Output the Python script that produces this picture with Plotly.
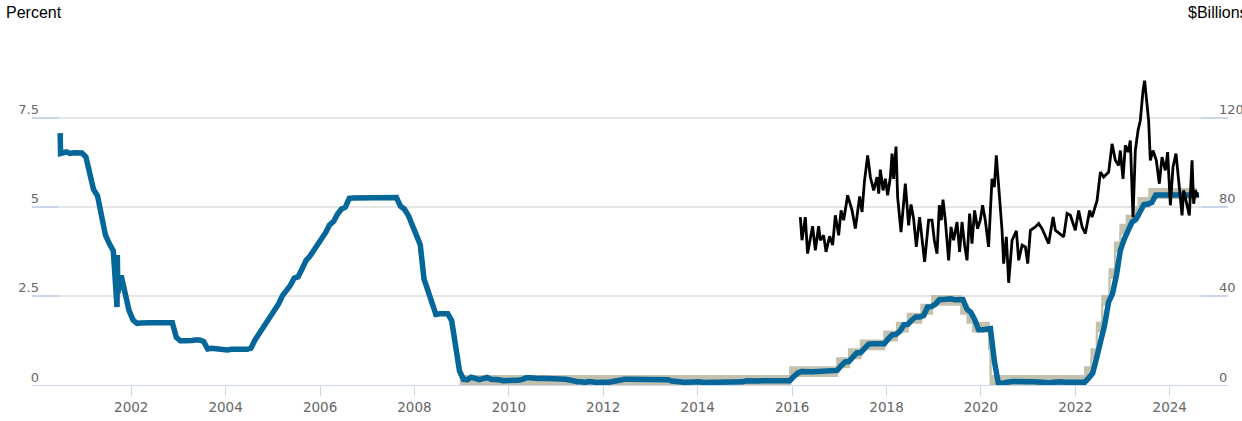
import pandas as pd
import plotly.graph_objects as go

# ---------------- DATA ----------------
# Effective federal funds rate, monthly (mid-month), Jul 2000 - Jul 2024 (percent)
effr_start = "2000-07-15"
effr_monthly = [
    6.54, 6.50, 6.52, 6.51, 6.51, 6.40,
    5.98, 5.49, 5.31, 4.80, 4.21, 3.97, 3.77, 3.65, 3.07, 2.49, 2.09, 1.82,
    1.73, 1.74, 1.73, 1.75, 1.75, 1.75, 1.73, 1.74, 1.75, 1.75, 1.34, 1.24,
    1.24, 1.26, 1.25, 1.26, 1.26, 1.22, 1.01, 1.03, 1.01, 1.01, 1.00, 0.98,
    1.00, 1.01, 1.00, 1.00, 1.00, 1.03, 1.26, 1.43, 1.61, 1.76, 1.93, 2.16,
    2.28, 2.50, 2.63, 2.79, 3.00, 3.04, 3.26, 3.50, 3.62, 3.78, 4.00, 4.16,
    4.29, 4.49, 4.59, 4.79, 4.94, 4.99, 5.24, 5.25, 5.25, 5.25, 5.25, 5.24,
    5.25, 5.26, 5.26, 5.25, 5.25, 5.25, 5.26, 5.02, 4.94, 4.76, 4.49, 4.24,
    3.94, 2.98, 2.61, 2.28, 1.98, 2.00, 2.01, 2.00, 1.81, 0.97, 0.39, 0.16,
    0.15, 0.22, 0.18, 0.15, 0.18, 0.21, 0.16, 0.16, 0.15, 0.12, 0.12, 0.12,
    0.11, 0.13, 0.16, 0.20, 0.20, 0.18, 0.18, 0.19, 0.19, 0.19, 0.19, 0.18,
    0.17, 0.16, 0.14, 0.10, 0.09, 0.09, 0.07, 0.10, 0.08, 0.07, 0.08, 0.07,
    0.08, 0.10, 0.13, 0.14, 0.16, 0.16, 0.16, 0.13, 0.14, 0.16, 0.16, 0.16,
    0.14, 0.15, 0.14, 0.15, 0.11, 0.09, 0.09, 0.08, 0.08, 0.09, 0.08, 0.09,
    0.07, 0.07, 0.08, 0.09, 0.09, 0.10, 0.09, 0.09, 0.09, 0.09, 0.09, 0.12,
    0.11, 0.11, 0.11, 0.12, 0.12, 0.13, 0.13, 0.14, 0.14, 0.12, 0.12, 0.24,
    0.34, 0.38, 0.36, 0.37, 0.37, 0.38, 0.39, 0.40, 0.40, 0.40, 0.41, 0.54,
    0.65, 0.66, 0.79, 0.90, 0.91, 1.04, 1.15, 1.16, 1.15, 1.15, 1.16, 1.30,
    1.41, 1.42, 1.51, 1.69, 1.70, 1.82, 1.91, 1.91, 1.95, 2.19, 2.20, 2.27,
    2.40, 2.40, 2.41, 2.42, 2.39, 2.38, 2.40, 2.13, 2.04, 1.83, 1.55, 1.55,
    1.55, 1.58, 0.65, 0.05, 0.05, 0.08, 0.09, 0.10, 0.09, 0.09, 0.09, 0.09,
    0.09, 0.08, 0.07, 0.07, 0.06, 0.08, 0.10, 0.09, 0.08, 0.08, 0.08, 0.08,
    0.08, 0.08, 0.20, 0.33, 0.77, 1.21, 1.68, 2.33, 2.56, 3.08, 3.78, 4.10,
    4.33, 4.57, 4.65, 4.83, 5.06, 5.08, 5.12, 5.33, 5.33, 5.33, 5.33, 5.33,
    5.33, 5.33, 5.33, 5.33, 5.33, 5.33, 5.33,
]
# Individual daily readings visible in the picture
effr_extra_dates = ["2000-06-30", "2000-07-03", "2001-09-13", "2001-09-20", "2024-07-31"]
effr_extra_values = [7.07, 6.50, 2.19, 2.58, 5.33]

# Target range (percent), step changes
target_dates = [
    "2008-12-16", "2015-12-17", "2016-12-15", "2017-03-16", "2017-06-15",
    "2017-12-14", "2018-03-22", "2018-06-14", "2018-09-27", "2018-12-20",
    "2019-08-01", "2019-09-19", "2019-10-31", "2020-03-04", "2020-03-16",
    "2022-03-17", "2022-05-05", "2022-06-16", "2022-07-28", "2022-09-22",
    "2022-11-03", "2022-12-15", "2023-02-02", "2023-03-23", "2023-05-04",
    "2023-07-27", "2024-07-31",
]
target_lower = [
    0.00, 0.25, 0.50, 0.75, 1.00, 1.25, 1.50, 1.75, 2.00, 2.25,
    2.00, 1.75, 1.50, 1.00, 0.00, 0.25, 0.75, 1.50, 2.25, 3.00,
    3.75, 4.25, 4.50, 4.75, 5.00, 5.25, 5.25,
]
target_upper = [
    0.25, 0.50, 0.75, 1.00, 1.25, 1.50, 1.75, 2.00, 2.25, 2.50,
    2.25, 2.00, 1.75, 1.25, 0.25, 0.50, 1.00, 1.75, 2.50, 3.25,
    4.00, 4.50, 4.75, 5.00, 5.25, 5.50, 5.50,
]

# Fed funds volume ($ billions); dates in decimal years
volume_year = [
    2016.174, 2016.210, 2016.280, 2016.328, 2016.434, 2016.492, 2016.561, 2016.597,
    2016.667, 2016.718, 2016.794, 2016.858, 2016.915, 2016.985, 2017.036, 2017.091,
    2017.176, 2017.269, 2017.339, 2017.430, 2017.481, 2017.530, 2017.600, 2017.657,
    2017.727, 2017.799, 2017.833, 2017.869, 2017.926, 2017.975, 2018.023, 2018.081,
    2018.117, 2018.150, 2018.201, 2018.235, 2018.307, 2018.398, 2018.468, 2018.519,
    2018.574, 2018.631, 2018.701, 2018.752, 2018.807, 2018.892, 2018.964, 2019.013,
    2019.070, 2019.119, 2019.161, 2019.197, 2019.246, 2019.316, 2019.367, 2019.422,
    2019.494, 2019.549, 2019.600, 2019.655, 2019.706, 2019.761, 2019.811, 2019.866,
    2019.930, 2019.987, 2020.036, 2020.093, 2020.163, 2020.235, 2020.284, 2020.326,
    2020.375, 2020.447, 2020.481, 2020.538, 2020.587, 2020.659, 2020.750, 2020.799,
    2020.871, 2020.941, 2020.990, 2021.047, 2021.153, 2021.222, 2021.294, 2021.364,
    2021.434, 2021.528, 2021.576, 2021.667, 2021.752, 2021.824, 2021.894, 2021.999,
    2022.070, 2022.142, 2022.212, 2022.303, 2022.354, 2022.460, 2022.530, 2022.600,
    2022.706, 2022.778, 2022.847, 2022.917, 2022.953, 2023.010, 2023.059, 2023.117,
    2023.165, 2023.222, 2023.271, 2023.328, 2023.377, 2023.434, 2023.468, 2023.504,
    2023.553, 2023.589, 2023.646, 2023.716, 2023.780, 2023.837, 2023.907, 2023.956,
    2024.013, 2024.070, 2024.133, 2024.189, 2024.261, 2024.295, 2024.352, 2024.415,
    2024.472, 2024.506, 2024.542, 2024.599,
]
volume_values = [
    75.4, 65.0, 75.4, 59.0, 71.3, 60.5, 71.3, 65.0,
    67.2, 59.8, 66.8, 62.8, 76.2, 67.2, 78.4, 74.0,
    85.2, 78.4, 70.2, 84.7, 77.7, 91.1, 103.1, 93.4,
    87.4, 93.4, 85.9, 96.7, 87.4, 92.6, 85.2, 93.4,
    103.9, 92.6, 107.1, 84.4, 68.7, 90.4, 71.7, 81.1,
    74.7, 62.0, 75.4, 64.2, 55.3, 74.0, 74.0, 65.0,
    59.0, 80.7, 74.0, 83.2, 74.0, 56.0, 71.0, 65.0,
    73.2, 59.8, 73.2, 62.8, 56.0, 77.0, 63.5, 78.4,
    70.2, 74.0, 80.7, 74.0, 62.0, 92.6, 88.9, 103.1,
    88.9, 69.5, 54.5, 66.5, 45.9, 65.0, 69.2, 56.0,
    62.8, 62.0, 54.5, 69.5, 71.0, 72.5, 70.2, 66.5,
    63.5, 75.4, 69.5, 68.0, 66.5, 77.0, 76.2, 69.5,
    78.4, 71.0, 68.0, 78.4, 75.4, 82.9, 95.6, 93.4,
    95.6, 108.3, 100.9, 98.6, 105.3, 92.6, 107.6, 104.6,
    109.8, 75.4, 105.3, 114.3, 118.8, 132.2, 136.7, 129.2,
    118.8, 100.9, 105.3, 100.9, 90.4, 102.3, 96.4, 104.6,
    80.7, 97.9, 103.9, 91.9, 76.2, 87.4, 81.4, 76.2,
    100.9, 81.4, 87.4, 84.4,
]

x_tick_years = [2002, 2004, 2006, 2008, 2010, 2012, 2014, 2016, 2018, 2020, 2022, 2024]
left_ticks = [0, 2.5, 5, 7.5, 10]
left_labels = ["0", "2.5", "5", "7.5", ""]
right_ticks = [0, 40, 80, 120, 160]
right_labels = ["0", "40", "80", "120", ""]

# ---------------- BUILD ----------------
effr = pd.concat([
    pd.Series(effr_monthly,
              index=pd.date_range(effr_start, periods=len(effr_monthly), freq="MS") + pd.Timedelta(days=14)),
    pd.Series(effr_extra_values, index=pd.to_datetime(effr_extra_dates)),
]).sort_index()


def decimal_year_to_date(y):
    yr = int(y)
    start = pd.Timestamp(year=yr, month=1, day=1)
    end = pd.Timestamp(year=yr + 1, month=1, day=1)
    return start + (end - start) * (y - yr)


volume_dates = [decimal_year_to_date(y) for y in volume_year]

BLUE = "#046699"
TAN = "#c3c1ad"
GRID = "#e6e6e6"
AXIS = "#ccd6eb"
LABEL = "#666666"

W, H = 1242, 421
ML, MR, MT, MB = 32, 14, 28, 36
PW, PH = W - ML - MR, H - MT - MB  # plot area 1196 x 357

fig = go.Figure()
fig.add_trace(go.Scatter(x=target_dates, y=target_lower, mode="lines",
                         line=dict(color=TAN, width=2, shape="hv"), hoverinfo="skip"))
fig.add_trace(go.Scatter(x=target_dates, y=target_upper, mode="lines",
                         line=dict(color=TAN, width=2, shape="hv"), fill="tonexty",
                         fillcolor=TAN, hoverinfo="skip"))
fig.add_trace(go.Scatter(x=effr.index, y=effr.values, mode="lines",
                         line=dict(color=BLUE, width=5.5)))
fig.add_trace(go.Scatter(x=volume_dates, y=volume_values, mode="lines", yaxis="y2",
                         line=dict(color="#000000", width=2.8)))

fig.update_layout(
    width=W, height=H,
    margin=dict(l=ML, r=MR, t=MT, b=MB, autoexpand=False),
    paper_bgcolor="white", plot_bgcolor="white",
    showlegend=False,
    font=dict(family="DejaVu Sans", size=13, color=LABEL),
    xaxis=dict(
        type="date", range=["1999-11-25", "2025-03-27"], automargin=False,
        tickvals=[f"{y}-01-01" for y in x_tick_years], ticktext=[str(y) for y in x_tick_years],
        showgrid=False, zeroline=False,
        showline=True, linecolor=AXIS, linewidth=1,
        ticks="outside", ticklen=10, tickcolor=AXIS, tickwidth=1,
        tickfont=dict(family="DejaVu Sans", size=13.5, color=LABEL),
    ),
    yaxis=dict(
        range=[0, 10.02], tickvals=left_ticks, ticktext=left_labels, automargin=False,
        showgrid=True, gridcolor=GRID, gridwidth=1.5, zeroline=False,
        ticks="inside", ticklen=27, tickcolor=AXIS, tickwidth=1.5,
        ticklabelposition="outside", ticklabelshift=-8, ticklabelstandoff=-8,
        tickfont=dict(family="DejaVu Sans", size=13, color=LABEL),
    ),
    yaxis2=dict(
        range=[0, 160.32], tickvals=right_ticks, ticktext=right_labels, automargin=False,
        overlaying="y", side="right",
        showgrid=False, zeroline=False,
        ticks="inside", ticklen=27, tickcolor=AXIS, tickwidth=1.5,
        ticklabelposition="outside", ticklabelshift=-8, ticklabelstandoff=-10,
        tickfont=dict(family="DejaVu Sans", size=13, color=LABEL),
    ),
    annotations=[
        dict(text="Percent", xref="paper", yref="paper", x=(4 - 32) / PW, y=1 + (28 - 12.5) / PH,
             xanchor="left", yanchor="middle", showarrow=False,
             font=dict(family="Liberation Sans", size=16, color="#000000")),
        dict(text="$Billions", xref="paper", yref="paper", x=(1186 - 32) / PW, y=1 + (28 - 12.5) / PH,
             xanchor="left", yanchor="middle", showarrow=False,
             font=dict(family="Liberation Sans", size=16, color="#000000")),
    ],
)

# remove the default 8px page margin so the figure fills the window exactly
fig.write_html("out.html", config={"displayModeBar": False},
               post_script="document.body.style.margin='0px';")
